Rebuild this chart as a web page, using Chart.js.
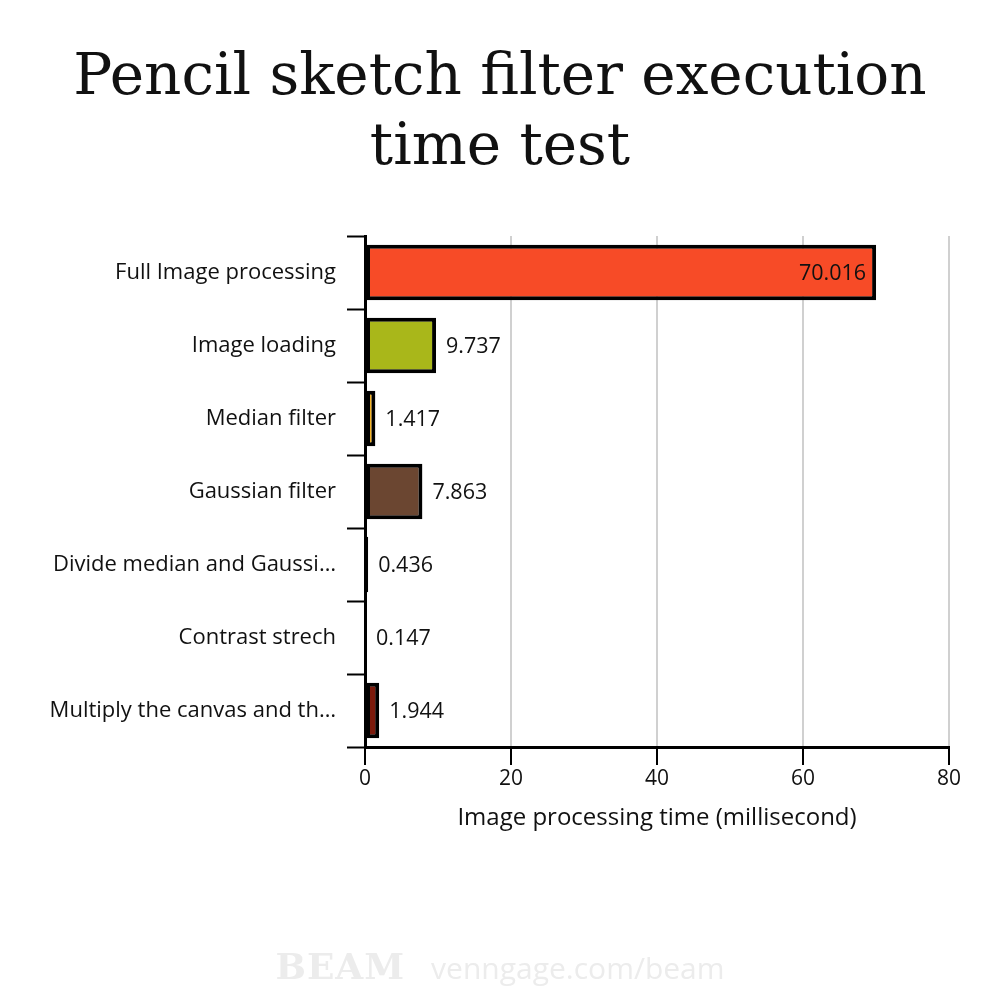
<!DOCTYPE html>
<html>
<head>
<meta charset="utf-8">
<script src="https://cdn.jsdelivr.net/npm/chart.js@4.4.0/dist/chart.umd.min.js"></script>
<style>
  html, body { margin: 0; padding: 0; background: #fff; }
  #wrap { position: relative; width: 1000px; height: 1000px; overflow: hidden; }
  #chart { position: absolute; left: 0; top: 0; }
  #title { position: absolute; left: 0; top: 39px; width: 1000px; text-align: center;
           font-family: "DejaVu Serif", serif; font-size: 58px; line-height: 70px; color: #111; }
  #wm { position: absolute; left: 0; top: 945px; width: 1000px; text-align: center; color: #ececec; white-space: nowrap; }
  #wm .b { font-family: "DejaVu Serif", serif; font-weight: bold; font-size: 36px; letter-spacing: 1px; margin-right: 26px; }
  #wm .u { font-family: "Open Sans", sans-serif; font-size: 30px; }
</style>
</head>
<body>
<div id="wrap">
  <canvas id="chart" width="1000" height="1000"></canvas>
  <div id="title">Pencil sketch filter execution<br>time test</div>
  <div id="wm"><span class="b">BEAM</span><span class="u">venngage.com/beam</span></div>
</div>
<script>
const categories = [
  "Full Image processing",
  "Image loading",
  "Median filter",
  "Gaussian filter",
  "Divide median and Gaussi…",
  "Contrast strech",
  "Multiply the canvas and th…"
];
const values = [70.016, 9.737, 1.417, 7.863, 0.436, 0.147, 1.944];
const valueLabels = ["70.016", "9.737", "1.417", "7.863", "0.436", "0.147", "1.944"];
const barColors = ["#F74B27", "#A9B71A", "#F5B324", "#6B4631", "#3A2A1E", "#C0C0C0", "#7C1A0C"];
const xTicks = [0, 20, 40, 60, 80];
const xTitle = "Image processing time (millisecond)";

const labelFont = { family: "'Open Sans', sans-serif", size: 22 };

const valueLabelPlugin = {
  id: 'valueLabels',
  afterDatasetsDraw(chart) {
    const ctx = chart.ctx;
    const meta = chart.getDatasetMeta(0);
    ctx.save();
    ctx.font = "21.5px 'Open Sans', sans-serif";
    ctx.fillStyle = "#111";
    ctx.textBaseline = "middle";
    meta.data.forEach((bar, i) => {
      const txt = valueLabels[i];
      const w = ctx.measureText(txt).width;
      const inside = (bar.x - bar.base) > w + 30;
      if (inside) {
        ctx.textAlign = "right";
        ctx.fillText(txt, bar.x - 10, bar.y + 1);
      } else {
        ctx.textAlign = "left";
        ctx.fillText(txt, bar.x + 10, bar.y + 1);
      }
    });
    ctx.restore();
  }
};

new Chart(document.getElementById('chart'), {
  type: 'bar',
  data: {
    labels: categories,
    datasets: [{
      data: values,
      backgroundColor: barColors,
      borderColor: "#000",
      borderWidth: 4,
      borderSkipped: false,
      barPercentage: 0.76,
      categoryPercentage: 1.0
    }]
  },
  options: {
    indexAxis: 'y',
    responsive: false,
    animation: false,
    devicePixelRatio: 1,
    layout: { padding: { top: 236, right: 51, left: 0, bottom: 163 } },
    plugins: {
      legend: { display: false },
      title: { display: false },
      tooltip: { enabled: false }
    },
    scales: {
      x: {
        min: 0, max: 80,
        afterBuildTicks(scale) { scale.ticks = xTicks.map(v => ({ value: v })); },
        grid: { color: "#d0d0d0", lineWidth: 2, tickColor: "#000", tickLength: 18, tickWidth: 2 },
        border: { display: true, color: "#000", width: 3 },
        ticks: { color: "#111", font: { family: "'Open Sans', sans-serif", size: 21 }, padding: 1, maxRotation: 0 },
        title: { display: true, text: xTitle, color: "#111",
                 font: { family: "'Open Sans', sans-serif", size: 24 }, padding: { top: 12, bottom: 4 } }
      },
      y: {
        afterFit(scale) { scale.width = 365; },
        grid: { drawOnChartArea: false, tickColor: "#000", tickLength: 18, tickWidth: 2, offset: true },
        border: { display: true, color: "#000", width: 3 },
        ticks: { color: "#111", font: labelFont, padding: 11, autoSkip: false }
      }
    }
  },
  plugins: [valueLabelPlugin]
});
</script>
</body>
</html>
